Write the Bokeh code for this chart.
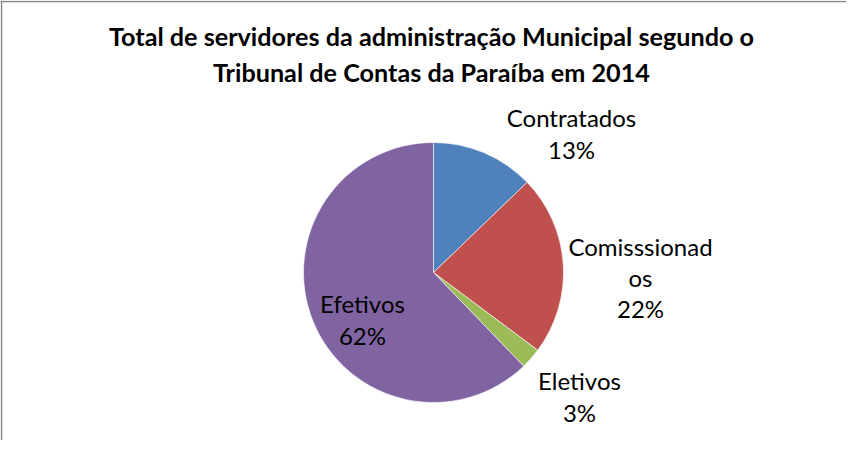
import math
import textwrap
from bokeh.plotting import figure
from bokeh.models import Range1d, Span, ColumnDataSource
from bokeh.core.properties import value
from bokeh.embed import file_html
from bokeh.resources import INLINE

# ---- data ----
categories = ["Contratados", "Comisssionados", "Eletivos", "Efetivos"]
shares = [12.8, 22.4, 2.6, 62.2]
colors = ["#4F81BD", "#C0504D", "#9BBB59", "#8064A2"]
title_lines = ["Total de servidores da administração Municipal segundo o",
               "Tribunal de Contas da Paraíba em 2014"]

# ---- layout (page pixel coordinates) ----
W, H = 846, 440
FONT = "Lato"
def fy(img_y):
    return 448 - img_y

cx, cy, R = 441, fy(280), 130
label_pos = [(579, 141), (648, 285), (587, 404), (370, 327)]

p = figure(width=W, height=H, output_backend="svg", toolbar_location=None,
           x_range=Range1d(8, 8 + W), y_range=Range1d(0, H),
           min_border=0, outline_line_color=None, background_fill_color="white")
p.axis.visible = False
p.grid.visible = False

total = sum(shares)
starts, ends = [], []
cum = 0.0
for v in shares:
    starts.append(math.pi / 2 - 2 * math.pi * cum / total)
    cum += v
    ends.append(math.pi / 2 - 2 * math.pi * cum / total)

src = ColumnDataSource(dict(start=starts, end=ends, color=colors))
p.wedge(x=cx, y=cy, radius=R, start_angle="start", end_angle="end",
        direction="clock", fill_color="color", line_color="white",
        line_width=0.6, source=src)

texts = []
for name, v in zip(categories, shares):
    lines = textwrap.wrap(name, 12, break_long_words=True)
    texts.append("\n".join(lines + [f"{round(v / total * 100)}%"]))
lsrc = ColumnDataSource(dict(x=[q[0] for q in label_pos],
                             y=[fy(q[1]) for q in label_pos], t=texts))
p.text(x="x", y="y", text="t", source=lsrc, text_align="center",
       text_baseline="middle", text_font=value(FONT), text_font_size="24px",
       text_color="#000000", text_line_height=1.08)

p.text(x=[439], y=[fy(61.5)], text=["\n".join(title_lines)],
       text_align="center", text_baseline="middle", text_font=value(FONT),
       text_font_size="25.2px", text_font_style="bold", text_color="#000000",
       text_line_height=1.2)

p.add_layout(Span(location=9, dimension="height", line_color="#868686", line_width=1.5))
p.add_layout(Span(location=fy(9), dimension="width", line_color="#868686", line_width=1.5))

open("out.html", "w").write(file_html(p, INLINE))
